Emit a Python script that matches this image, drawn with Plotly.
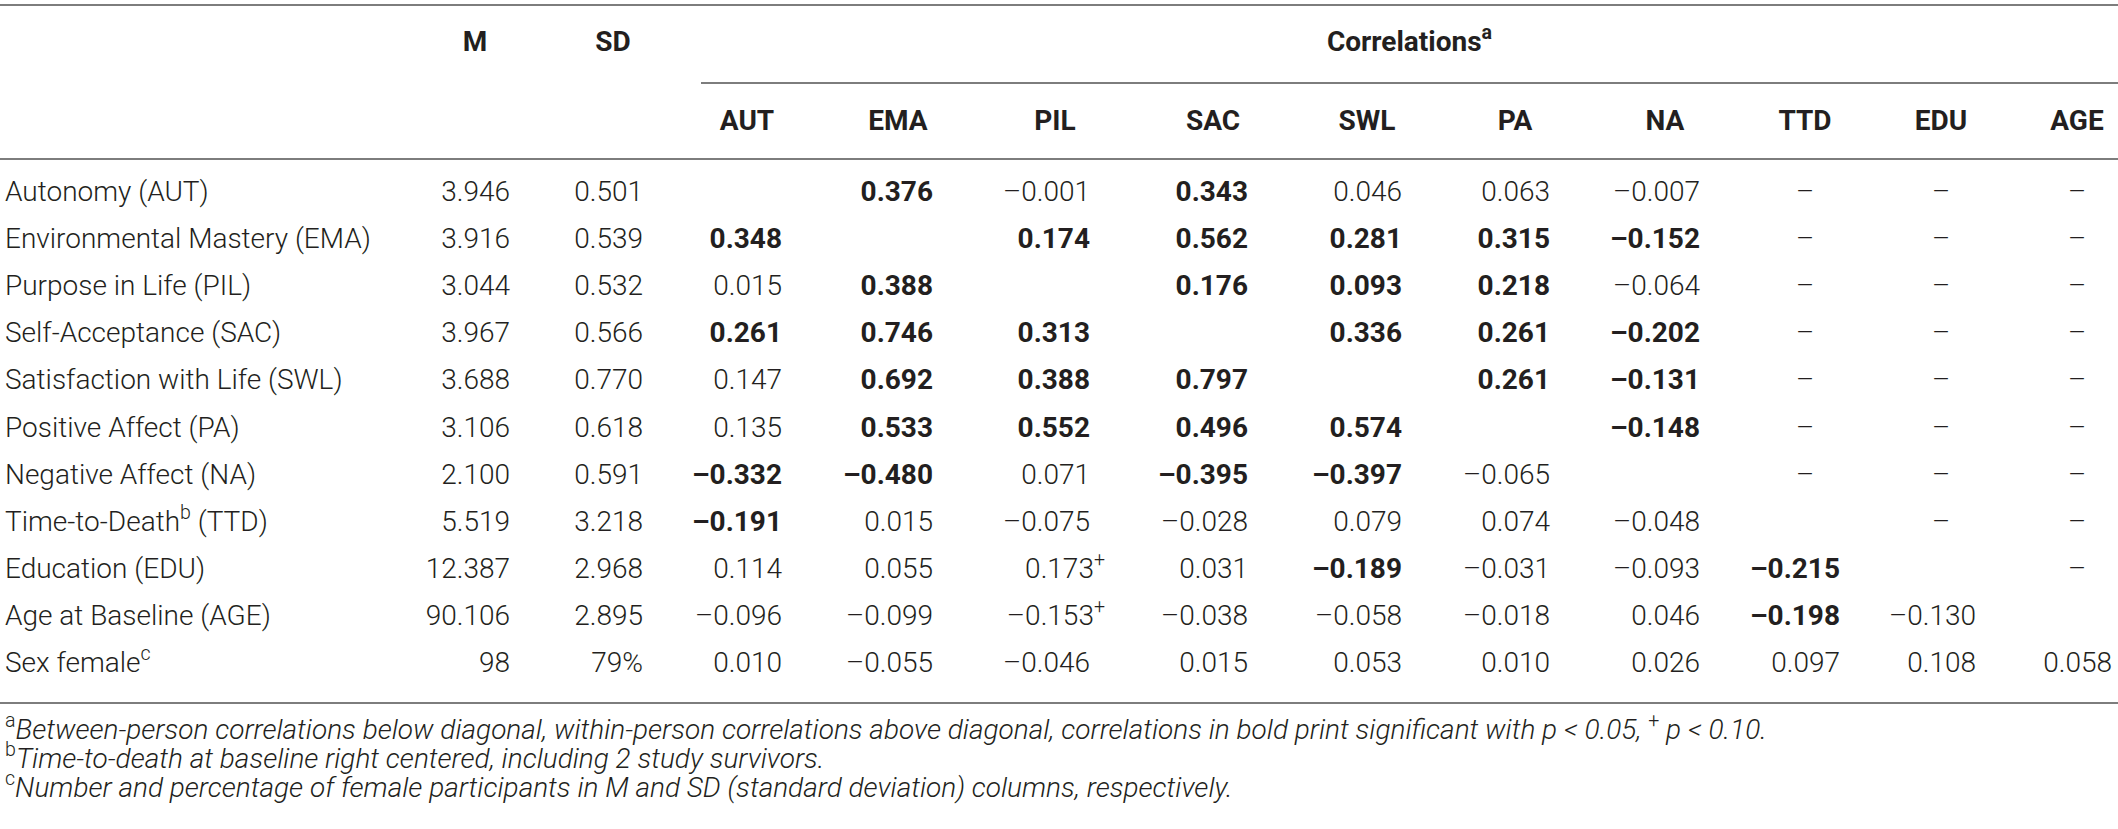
import plotly.graph_objects as go

# ---------------- data ----------------
row_labels = [
    "Autonomy (AUT)", "Environmental Mastery (EMA)", "Purpose in Life (PIL)",
    "Self-Acceptance (SAC)", "Satisfaction with Life (SWL)", "Positive Affect (PA)",
    "Negative Affect (NA)", "Time-to-Death<sup>b</sup> (TTD)", "Education (EDU)",
    "Age at Baseline (AGE)", "Sex female<sup>c</sup>",
]
means = ["3.946", "3.916", "3.044", "3.967", "3.688", "3.106", "2.100", "5.519", "12.387", "90.106", "98"]
sds = ["0.501", "0.539", "0.532", "0.566", "0.770", "0.618", "0.591", "3.218", "2.968", "2.895", "79%"]
corr_cols = ["AUT", "EMA", "PIL", "SAC", "SWL", "PA", "NA", "TTD", "EDU", "AGE"]

D = "dash"   # not estimated
corr_values = [
    [None, 0.376, -0.001, 0.343, 0.046, 0.063, -0.007, D, D, D],
    [0.348, None, 0.174, 0.562, 0.281, 0.315, -0.152, D, D, D],
    [0.015, 0.388, None, 0.176, 0.093, 0.218, -0.064, D, D, D],
    [0.261, 0.746, 0.313, None, 0.336, 0.261, -0.202, D, D, D],
    [0.147, 0.692, 0.388, 0.797, None, 0.261, -0.131, D, D, D],
    [0.135, 0.533, 0.552, 0.496, 0.574, None, -0.148, D, D, D],
    [-0.332, -0.480, 0.071, -0.395, -0.397, -0.065, None, D, D, D],
    [-0.191, 0.015, -0.075, -0.028, 0.079, 0.074, -0.048, None, D, D],
    [0.114, 0.055, 0.173, 0.031, -0.189, -0.031, -0.093, -0.215, None, D],
    [-0.096, -0.099, -0.153, -0.038, -0.058, -0.018, 0.046, -0.198, -0.130, None],
    [0.010, -0.055, -0.046, 0.015, 0.053, 0.010, 0.026, 0.097, 0.108, 0.058],
]
# 1 = significant p < 0.05 (bold), 2 = p < 0.10 (+)
corr_sig = [
    [0, 1, 0, 1, 0, 0, 0, 0, 0, 0],
    [1, 0, 1, 1, 1, 1, 1, 0, 0, 0],
    [0, 1, 0, 1, 1, 1, 0, 0, 0, 0],
    [1, 1, 1, 0, 1, 1, 1, 0, 0, 0],
    [0, 1, 1, 1, 0, 1, 1, 0, 0, 0],
    [0, 1, 1, 1, 1, 0, 1, 0, 0, 0],
    [1, 1, 0, 1, 1, 0, 0, 0, 0, 0],
    [1, 0, 0, 0, 0, 0, 0, 0, 0, 0],
    [0, 0, 2, 0, 1, 0, 0, 1, 0, 0],
    [0, 0, 2, 0, 0, 0, 0, 1, 0, 0],
    [0, 0, 0, 0, 0, 0, 0, 0, 0, 0],
]
header_top = ["M", "SD", "Correlations<sup>a</sup>"]
footnotes = [
    "<sup>a</sup><i>Between-person correlations below diagonal, within-person correlations above diagonal, "
    "correlations in bold print significant with p &lt; 0.05, </i><sup>+</sup><i> p &lt; 0.10.</i>",
    "<sup>b</sup><i>Time-to-death at baseline right centered, including 2 study survivors.</i>",
    "<sup>c</sup><i>Number and percentage of female participants in M and SD (standard deviation) columns, respectively.</i>",
]

# ---------------- layout constants ----------------
W, H = 2118, 829
FONT = "Roboto"
TXT = "#231f20"
RULE = "#7d7d7d"
FS = 28
label_x = 5
m_right, sd_right = 510, 643
corr_right = [782, 933, 1090, 1248, 1402, 1550, 1700, 1840, 1976, 2112]
head_shift = 35
row_y0, row_step = 194, 47.1
row_y = [row_y0 + row_step * i for i in range(len(row_labels))]
y_head1, y_head2 = 44, 123
y_top_rule, y_corr_rule, y_head_rule, y_bottom_rule = 5, 83, 159, 703
corr_rule_x0 = 701
foot_y = [732, 761, 790]
sup_overhang = 15


def fmt(v):
    return f"{v:.3f}".replace("-", "\u2013")


norm_x, norm_y, norm_t = [], [], []
bold_x, bold_y, bold_t = [], [], []
dash_x, dash_y = [], []

for i, y in enumerate(row_y):
    norm_x += [m_right, sd_right]
    norm_y += [y, y]
    norm_t += [means[i], sds[i]]
    for j, v in enumerate(corr_values[i]):
        if v is None:
            continue
        if v == D:
            dash_x.append(corr_right[j] - head_shift)
            dash_y.append(y)
            continue
        s = corr_sig[i][j]
        if s == 1:
            bold_x.append(corr_right[j]); bold_y.append(y); bold_t.append(fmt(v))
        elif s == 2:
            norm_x.append(corr_right[j] + sup_overhang); norm_y.append(y)
            norm_t.append(fmt(v) + "<sup>+</sup>")
        else:
            norm_x.append(corr_right[j]); norm_y.append(y); norm_t.append(fmt(v))

fig = go.Figure()


def text_trace(x, y, t, pos, size=FS, weight=300, color=TXT):
    fig.add_trace(go.Scatter(
        x=x, y=y, text=t, mode="text", textposition=pos, hoverinfo="skip",
        showlegend=False,
        textfont=dict(family=FONT, size=size, color=color, weight=weight),
    ))


# row labels
text_trace([label_x] * len(row_labels), row_y, row_labels, "middle right")
# normal values
text_trace(norm_x, norm_y, norm_t, "middle left")
# bold values
text_trace(bold_x, bold_y, bold_t, "middle left", weight=700)
# dashes
text_trace(dash_x, dash_y, ["\u2013"] * len(dash_x), "middle center")
# top headers
text_trace([m_right - head_shift, sd_right - 30, (corr_rule_x0 + W) / 2],
           [y_head1] * 3, header_top, "middle center", weight=700)
# correlation column headers
text_trace([r - head_shift for r in corr_right], [y_head2] * len(corr_cols), corr_cols,
           "middle center", weight=700)
# footnotes
text_trace([label_x] * len(footnotes), foot_y, footnotes, "middle right", size=28)

rules = [
    (0, W, y_top_rule),
    (corr_rule_x0, W, y_corr_rule),
    (0, W, y_head_rule),
    (0, W, y_bottom_rule),
]
for x0, x1, y in rules:
    fig.add_shape(type="line", x0=x0, x1=x1, y0=y, y1=y, xref="x", yref="y",
                  line=dict(color=RULE, width=1.8))

fig.update_layout(
    width=W, height=H,
    margin=dict(l=0, r=0, t=0, b=0),
    paper_bgcolor="white", plot_bgcolor="white",
    xaxis=dict(range=[0, W], visible=False, fixedrange=True),
    yaxis=dict(range=[H, 0], visible=False, fixedrange=True),
)

fig.write_html("out.html", post_script="document.body.style.margin='0';",
               config={"displayModeBar": False})
